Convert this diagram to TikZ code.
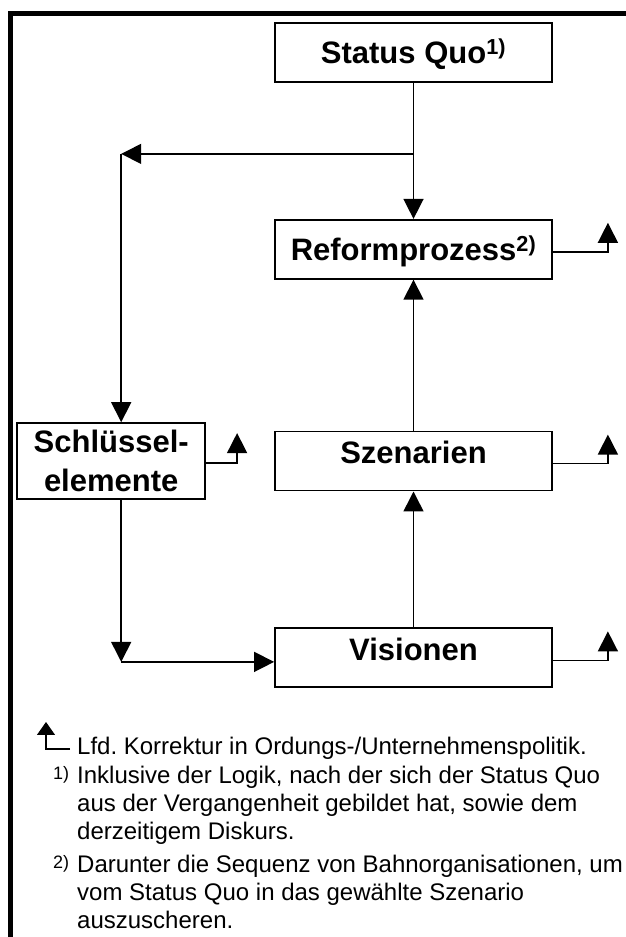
\documentclass[tikz,border=0pt]{standalone}
\usepackage{fontspec}
\setmainfont{Liberation Sans}
\usetikzlibrary{arrows.meta,positioning,calc}
\newcommand{\notemarkfont}{\fontsize{18}{18}\selectfont}
\tikzset{
  stage/.style={draw=black, line width=1.8pt, align=center, inner sep=0pt, minimum width=277pt, minimum height=59pt, font=\fontsize{31}{39}\selectfont\bfseries},
  onelabel/.style={text height=22pt, text depth=0pt},
  flow/.style={-{Triangle[length=20pt,width=20pt]}, line width=1.5pt},
  korrektur/.style={-{Triangle[length=20pt,width=20pt]}, line width=1.5pt},
  legendarrow/.style={-{Triangle[length=13pt,width=18pt]}, line width=1.2pt},
  notetext/.style={inner sep=0pt, font=\fontsize{24}{28}\selectfont, align=left},
  frame/.style={line width=4.5pt}
}

\begin{document}
\begin{tikzpicture}[x=1pt, y=1pt, node distance=136pt]
  \useasboundingbox (0,0) rectangle (626,937);
  \draw[frame] (10.5,0) |- (626,923.5);

  % stages
  \node[stage, onelabel] (statusquo) at (413.5,884.5) {Status Quo\textsuperscript{1)}};
  \node[stage, onelabel, below=136pt of statusquo] (reform) {Reformprozess\textsuperscript{2)}};
  \node[stage, onelabel, text depth=17pt, below=151pt of reform] (szenarien) {Szenarien};
  \node[stage, onelabel, text depth=17pt, below=136pt of szenarien] (visionen) {Visionen};
  \node[stage, minimum width=188pt, minimum height=76pt, left=68pt of szenarien] (schluessel) {Schlüssel-\\elemente};

  % turning points
  \coordinate (split) at ($(statusquo.south)+(0,-71)$);
  \coordinate (schlin) at ([xshift=10pt]schluessel.north);
  \coordinate (schlout) at ([xshift=10pt]schluessel.south);
  \coordinate (turn) at (split -| schlin);
  \coordinate (visin) at ([yshift=-4pt]visionen.west);
  \coordinate (bend) at (schlout |- visin);

  \draw[flow] (statusquo.south) -- (reform.north);
  \draw[flow] (split) -- (turn);
  \draw[flow] (turn) -- (schlin);
  \draw[flow] (schlout) -- (bend);
  \draw[flow] (bend) -- (visin);
  \draw[flow] (visionen.north) -- (szenarien.south);
  \draw[flow] (szenarien.north) -- (reform.south);

  % running corrections
  \foreach \stagename in {reform,szenarien,visionen}
    \draw[korrektur] ([yshift=-2.5pt]\stagename.east) -- ++(55,0) -- ++(0,29);
  \draw[korrektur] ([yshift=-2pt]schluessel.east) -- ++(31,0) -- ++(0,30);

  % legend
  \node[notetext, anchor=base west] (legend) at (77,182) {Lfd.\ Korrektur in Ordungs-/Unternehmenspolitik.};
  \draw[legendarrow] ([shift={(-7pt,6pt)}]legend.base west) -- ++(-24,0) -- ++(0,27);
  \node[notetext, anchor=base west] (fn1) at ([shift={(-24pt,-29pt)}]legend.base west)
    {\begin{tabular}[t]{@{}p{24pt}@{}l@{}}
      \raisebox{4pt}{\notemarkfont 1)} & Inklusive der Logik, nach der sich der Status Quo\\
      & aus der Vergangenheit gebildet hat, sowie dem\\
      & derzeitigem Diskurs.
    \end{tabular}};
  \node[notetext, anchor=base west] (fn2) at ([yshift=-89pt]fn1.base west)
    {\begin{tabular}[t]{@{}p{24pt}@{}l@{}}
      \raisebox{4pt}{\notemarkfont 2)} & Darunter die Sequenz von Bahnorganisationen, um\\
      & vom Status Quo in das gewählte Szenario\\
      & auszuscheren.
    \end{tabular}};
\end{tikzpicture}
\end{document}
